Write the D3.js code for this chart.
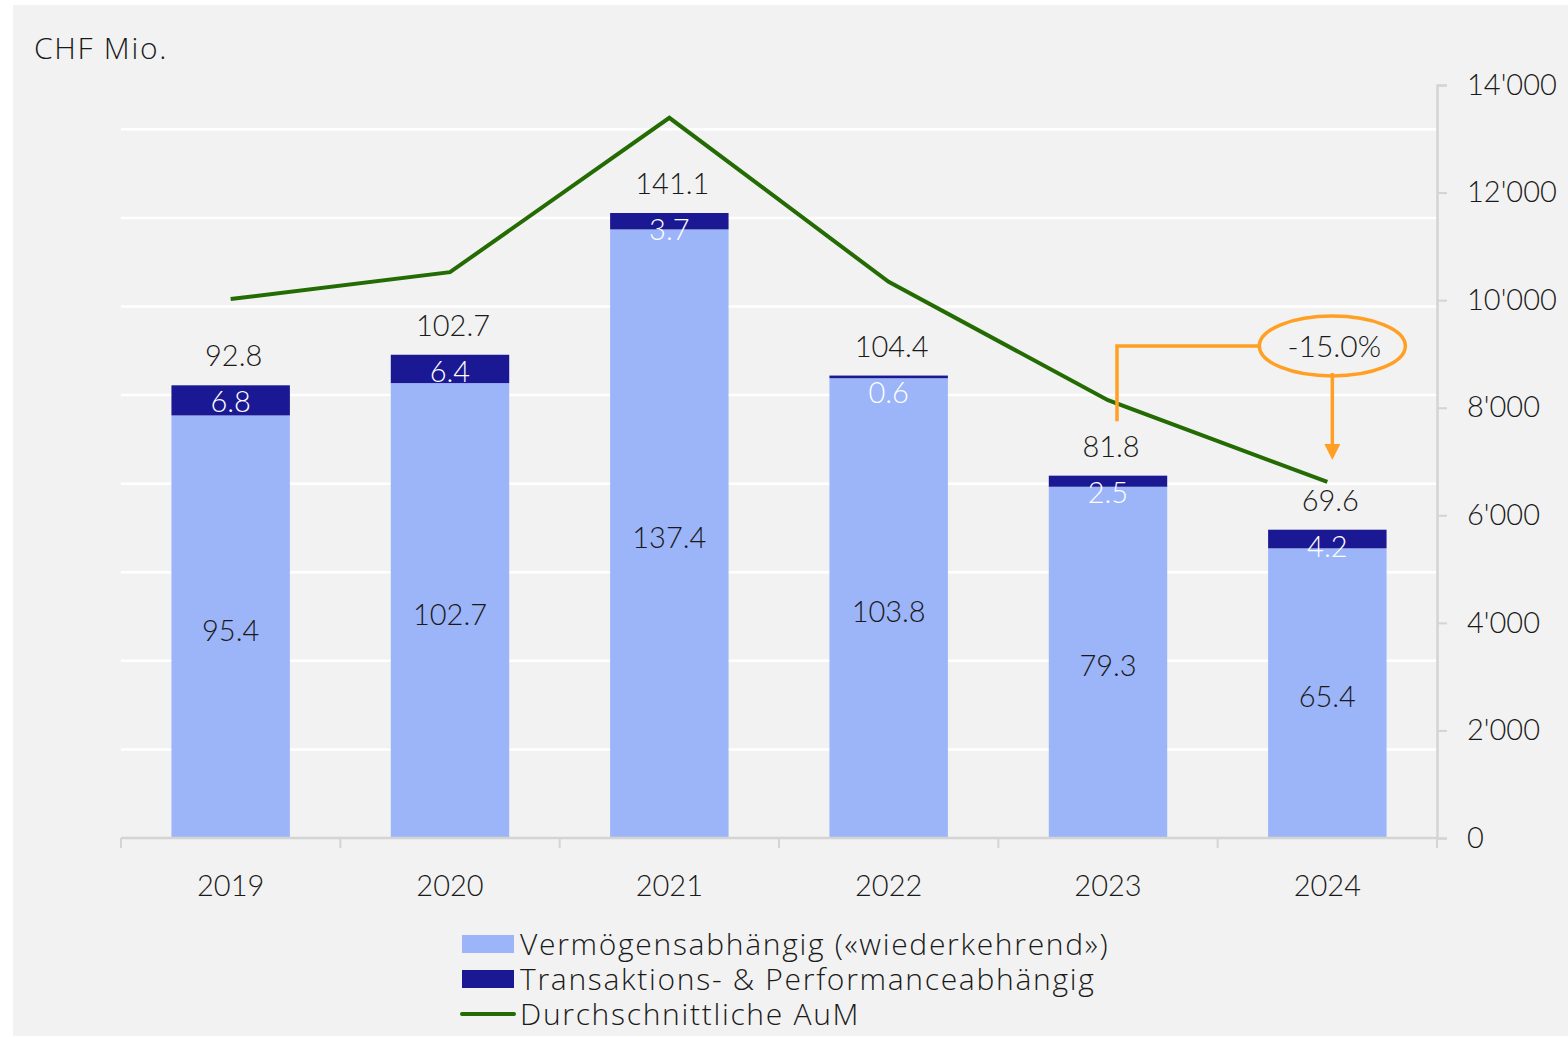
<!DOCTYPE html>
<html>
<head>
<meta charset="utf-8">
<script src="https://cdn.jsdelivr.net/npm/d3@7"></script>
<style>
  body { margin: 0; background: #fff; }
  svg text { font-family: Lato, "Open Sans", sans-serif; font-weight: 300; fill: #1a1a1a; }
  svg text.words { font-family: "Open Sans", Lato, sans-serif; font-weight: 300; letter-spacing: 1.7px; }
</style>
</head>
<body>
<script>
var w = 1568;
var h = 1037;

var years = ["2019", "2020", "2021", "2022", "2023", "2024"];
var recurring = [95.4, 102.7, 137.4, 103.8, 79.3, 65.4];   // Vermögensabhängig
var transact = [6.8, 6.4, 3.7, 0.6, 2.5, 4.2];              // Transaktions- & Performance
var totals = ["92.8", "102.7", "141.1", "104.4", "81.8", "69.6"];
var aum = [10020, 10520, 13390, 10340, 8140, 6620];
var rightTicks = [0, 2000, 4000, 6000, 8000, 10000, 12000, 14000];
var gridTicks = [20, 40, 60, 80, 100, 120, 140, 160];
var legendLabels = ["Vermögensabhängig («wiederkehrend»)", "Transaktions- & Performanceabhängig", "Durchschnittliche AuM"];
var changeLabel = "-15.0%";

var cLight = "#9cb4f8", cDark = "#1b1894", cLine = "#236b02", cOrange = "#ffa024";

var svg = d3.select("body").append("svg")
    .attr("width", w)
    .attr("height", h);

svg.append("rect")
    .attr("x", 13).attr("y", 5).attr("width", w - 13).attr("height", 1031)
    .attr("fill", "#f2f2f2");

var x = d3.scaleBand().domain(years).range([121, 1437]).paddingInner(0.46).paddingOuter(0.23);
var yL = d3.scaleLinear().domain([0, 170]).range([838, 85]);
var yR = d3.scaleLinear().domain([0, 14000]).range([838, 85]);

// gridlines
svg.selectAll(".grid").data(gridTicks).enter().append("line")
    .attr("x1", 121).attr("x2", 1437)
    .attr("y1", function(d) { return yL(d); })
    .attr("y2", function(d) { return yL(d); })
    .attr("stroke", "#fff").attr("stroke-width", 2.5);

// bars
var rows = years.map(function(y, i) { return {year: y, a: recurring[i], b: transact[i], t: totals[i]}; });

var g = svg.selectAll(".bar").data(rows).enter().append("g");
g.append("rect")
    .attr("x", function(d) { return x(d.year); })
    .attr("width", x.bandwidth())
    .attr("y", function(d) { return yL(d.a); })
    .attr("height", function(d) { return yL(0) - yL(d.a); })
    .attr("fill", cLight);
g.append("rect")
    .attr("x", function(d) { return x(d.year); })
    .attr("width", x.bandwidth())
    .attr("y", function(d) { return yL(d.a + d.b); })
    .attr("height", function(d) { return yL(d.a) - yL(d.a + d.b); })
    .attr("fill", cDark);

var cx = function(d) { return x(d.year) + x.bandwidth() / 2; };

g.append("text")
    .attr("x", cx)
    .attr("y", function(d) { return (yL(d.a) + yL(0)) / 2 + 14; })
    .attr("text-anchor", "middle").style("font-size", "29px")
    .text(function(d) { return d.a.toFixed(1); });

g.append("text")
    .attr("x", cx)
    .attr("y", function(d) {
        var top = yL(d.a + d.b), mid = (top + yL(d.a)) / 2;
        return Math.max(mid, top + 17) + 10;
    })
    .attr("text-anchor", "middle").style("font-size", "29px").style("fill", "#fff")
    .text(function(d) { return d.b.toFixed(1); });

g.append("text")
    .attr("x", function(d) { return cx(d) + 3; })
    .attr("y", function(d) { return yL(d.a + d.b) - 19; })
    .attr("text-anchor", "middle").style("font-size", "29px")
    .text(function(d) { return d.t; });

// x axis
var xAxis = svg.append("g").attr("transform", "translate(0,838)");
xAxis.append("line").attr("x1", 121).attr("x2", 1437).attr("stroke", "#d4d4d4").attr("stroke-width", 2.5);
var bounds = years.map(function(y) { return x(y) - x.step() * x.paddingInner() / 2; }).concat([1437]);
xAxis.selectAll(".tk").data(bounds).enter().append("line")
    .attr("x1", function(d) { return d; }).attr("x2", function(d) { return d; })
    .attr("y1", 0).attr("y2", 10)
    .attr("stroke", "#d4d4d4").attr("stroke-width", 2);
xAxis.selectAll(".lbl").data(years).enter().append("text")
    .attr("x", function(d) { return x(d) + x.bandwidth() / 2; })
    .attr("y", 58)
    .attr("text-anchor", "middle").style("font-size", "29px")
    .text(function(d) { return d; });

// right axis
var fmt = function(d) { return d3.format(",")(d).replace(/,/g, "'"); };
var rAxis = svg.append("g").attr("transform", "translate(1437,0)")
    .call(d3.axisRight(yR).tickValues(rightTicks).tickSize(10).tickPadding(20).tickFormat(fmt));
rAxis.select(".domain").attr("stroke", "#d4d4d4").attr("stroke-width", 2.5);
rAxis.selectAll(".tick line").attr("stroke", "#d4d4d4").attr("stroke-width", 2);
rAxis.selectAll(".tick text").style("font-size", "29px").attr("fill", "#1a1a1a")
    .style("font-family", "Lato, 'Open Sans', sans-serif");

// AuM line
var line = d3.line()
    .x(function(d, i) { return x(years[i]) + x.bandwidth() / 2; })
    .y(function(d) { return yR(d); });
svg.append("path")
    .attr("d", line(aum))
    .attr("fill", "none").attr("stroke", cLine).attr("stroke-width", 4);

// annotation
var ax = x("2023") + x.bandwidth() / 2 + 9;
var ex = x("2024") + x.bandwidth() / 2 + 5;
var ey = 346;
svg.append("path")
    .attr("d", "M" + ax + "," + (yR(aum[4]) + 21) + "V" + ey + "H" + (ex - 73))
    .attr("fill", "none").attr("stroke", cOrange).attr("stroke-width", 3.5);
svg.append("ellipse")
    .attr("cx", ex).attr("cy", ey).attr("rx", 73).attr("ry", 30)
    .attr("fill", "none").attr("stroke", cOrange).attr("stroke-width", 3.5);
svg.append("line")
    .attr("x1", ex).attr("x2", ex).attr("y1", ey + 27).attr("y2", 446)
    .attr("stroke", cOrange).attr("stroke-width", 3.5);
svg.append("path")
    .attr("d", "M" + (ex - 8) + ",444L" + (ex + 8) + ",444L" + ex + ",460Z")
    .attr("fill", cOrange);
svg.append("text")
    .attr("x", ex + 2).attr("y", ey + 11)
    .attr("text-anchor", "middle").style("font-size", "30px")
    .text(changeLabel);

// unit label
svg.append("text").attr("class", "words").attr("x", 34).attr("y", 59).style("font-size", "30px").text("CHF Mio.");

// legend
var leg = svg.append("g").attr("transform", "translate(462,944)");
legendLabels.forEach(function(t, i) {
    var row = leg.append("g").attr("transform", "translate(0," + (i * 35) + ")");
    if (i < 2) {
        row.append("rect").attr("x", 0).attr("y", -9).attr("width", 52).attr("height", 18)
            .attr("fill", i === 0 ? cLight : cDark);
    } else {
        row.append("line").attr("x1", 0).attr("x2", 52).attr("y1", 0).attr("y2", 0)
            .attr("stroke", cLine).attr("stroke-width", 4).attr("stroke-linecap", "round");
    }
    row.append("text").attr("class", "words").attr("x", 58).attr("y", 11).style("font-size", "30px").text(t);
});
</script>
</body>
</html>
